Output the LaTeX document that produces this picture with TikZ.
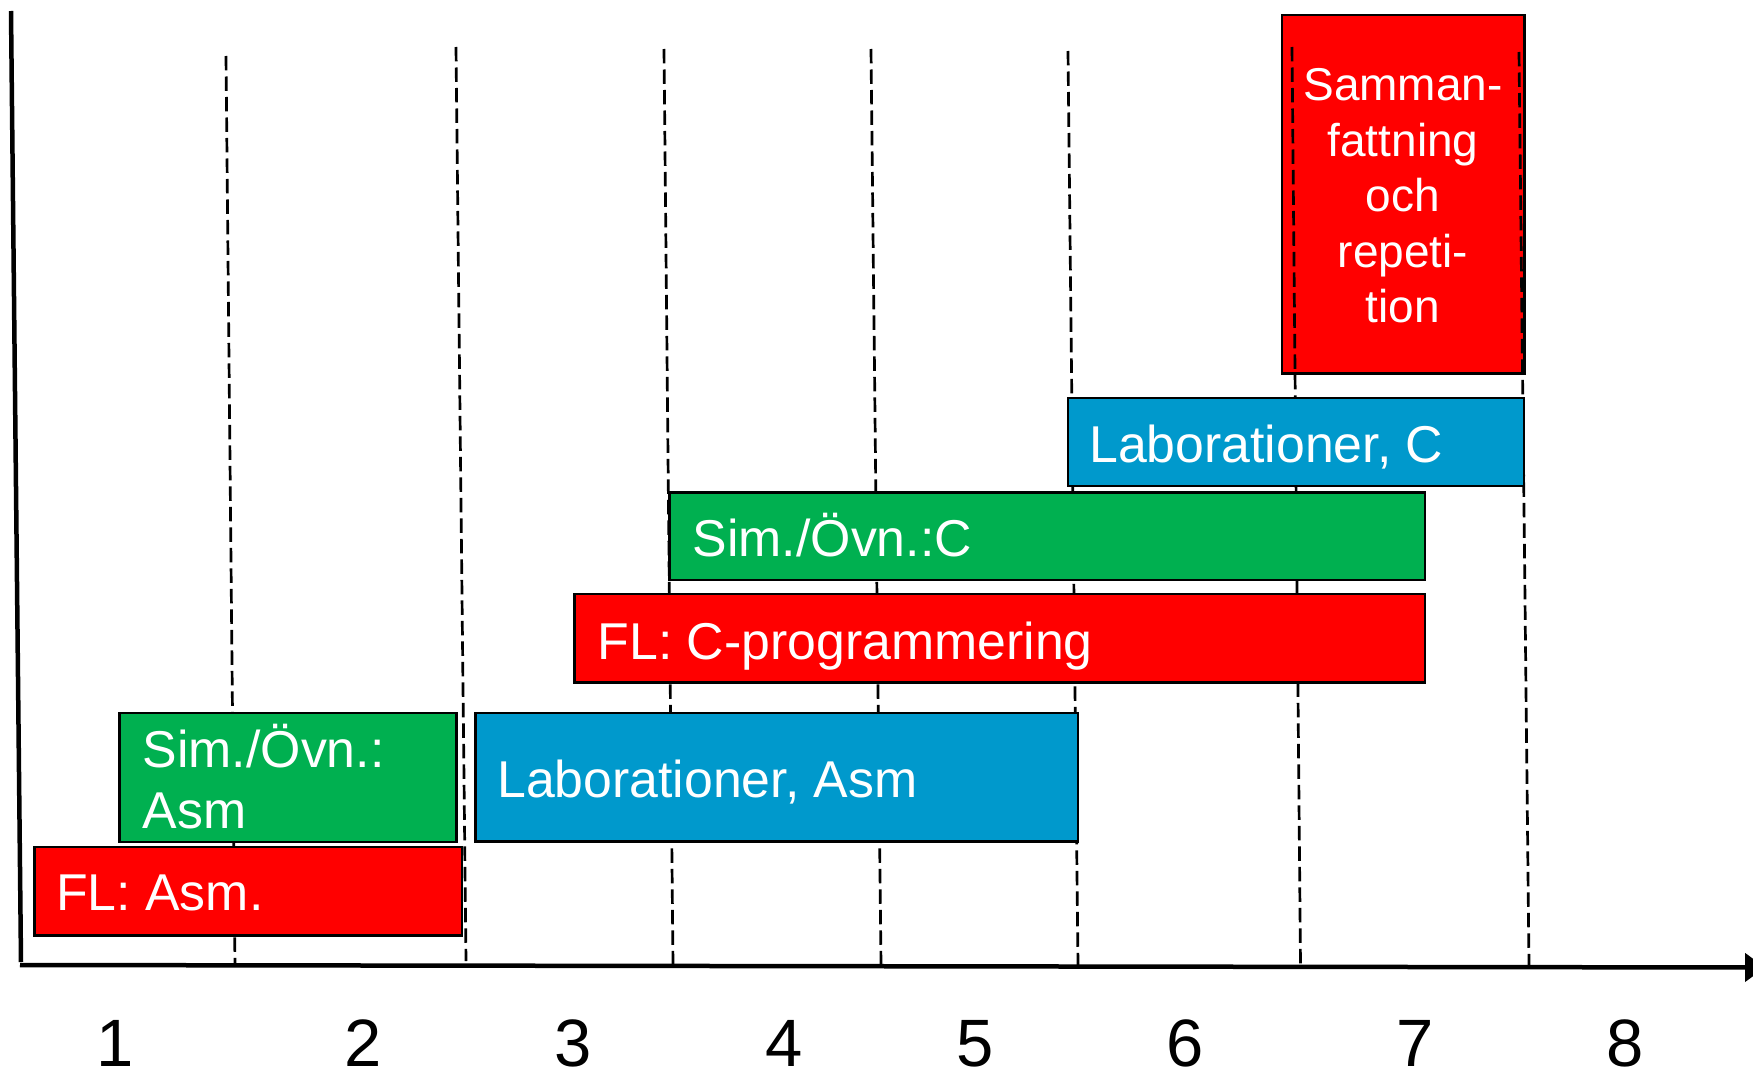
\documentclass[tikz,border=0pt]{standalone}
\usepackage{fontspec}
\setmainfont{Liberation Sans}
\usetikzlibrary{arrows.meta}
\definecolor{barred}{HTML}{FF0000}
\definecolor{bargreen}{HTML}{00B050}
\definecolor{barblue}{HTML}{0099CC}
\tikzset{
  bar/.style={draw=black, line width=2.5pt, inner sep=0pt, outer sep=0pt, anchor=north west},
  bartext/.style={text=white, inner sep=0pt, font=\fontsize{51.8}{61.2}\selectfont},
  weekline/.style={line width=2.7pt, dash pattern=on 14.3pt off 6.2pt},
  axisline/.style={line width=4.5pt},
  weeknum/.style={anchor=base, inner sep=0pt, font=\fontsize{67}{80}\selectfont}
}
\begin{document}
\begin{tikzpicture}[x=1pt, y=-1pt]
  \useasboundingbox (0,0) rectangle (1753,1073);

  % summary block sits behind the week separators
  \node[bar, fill=barred, minimum width=242.3pt, minimum height=358.3pt] (samman) at (1282,15) {};
  \node[bartext, anchor=base, font=\fontsize{46}{55.6}\selectfont] (sammantext) at (1403,100.6)
    {\begin{tabular}[t]{@{}c@{}}Samman-\\fattning\\och\\repeti-\\tion\end{tabular}};

  % week separators
  \foreach \i/\xa/\ya/\xb/\yb in {1/226/56/235/966, 2/456/47/466/961, 3/664/49/673/965,
                                  4/871/49/881/965, 5/1068/51/1078/965, 6/1292/47/1300.5/965,
                                  7/1519/52/1529/965} {
    \coordinate (sep\i top) at (\xa,\ya);
    \coordinate (sep\i bot) at (\xb,\yb);
    \draw[weekline] (sep\i top) -- (sep\i bot);
  }

  % axes
  \coordinate (ytop) at (11,11);
  \coordinate (origin) at (21,962);
  \coordinate (xstart) at (20,965);
  \coordinate (xend) at (1765,967.5);
  \draw[axisline] (ytop) -- (origin);
  \draw[axisline, -{Triangle[length=20pt, width=28pt]}] (xstart) -- (xend);

  % activity bars
  \node[bar, fill=barred, minimum width=427.5pt, minimum height=88.5pt] (flasm) at (34.5,847) {};
  \node[bartext, anchor=base west] (flasmtext) at (56,910.5) {FL: Asm.};

  \node[bar, fill=bargreen, minimum width=337pt, minimum height=129pt] (simasm) at (119.7,713) {};
  \node[bartext, anchor=base west] (simasmtext) at (142.5,767)
    {\begin{tabular}[t]{@{}l@{}}Sim./Övn.:\\Asm\end{tabular}};

  \node[bar, fill=barblue, minimum width=602.7pt, minimum height=128.5pt] (labasm) at (475.3,713) {};
  \node[bartext, anchor=base west] (labasmtext) at (497,797.5) {Laborationer, Asm};

  \node[bar, fill=barred, minimum width=850.3pt, minimum height=88.3pt] (flc) at (574.7,594) {};
  \node[bartext, anchor=base west] (flctext) at (597.5,659) {FL: C-programmering};

  \node[bar, fill=bargreen, minimum width=755.5pt, minimum height=87.5pt] (simc) at (669.5,492.5) {};
  \node[bartext, anchor=base west] (simctext) at (692.5,556.5) {Sim./Övn.:C};

  \node[bar, fill=barblue, minimum width=456pt, minimum height=88pt] (labc) at (1068,398) {};
  \node[bartext, anchor=base west] (labctext) at (1089,462) {Laborationer, C};

  % week numbers
  \foreach \n/\xc in {1/115, 2/363, 3/573, 4/784, 5/975, 6/1185, 7/1415, 8/1625} {
    \node[weeknum] (week\n) at (\xc,1066) {\n};
  }
\end{tikzpicture}
\end{document}
